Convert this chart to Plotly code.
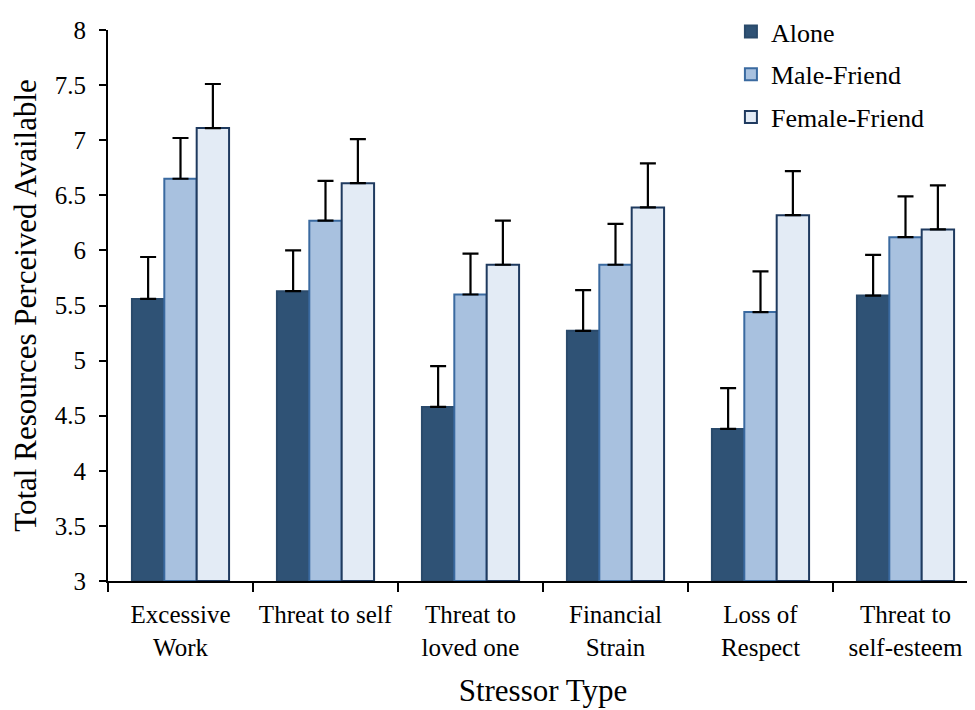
"""
Grouped bar chart: perceived resources by stressor type and company.
"""
import plotly.graph_objects as go

stressors = ["Excessive<br>Work", "Threat to self", "Threat to<br>loved one",
             "Financial<br>Strain", "Loss of<br>Respect", "Threat to<br>self-esteem"]

alone = [5.56, 5.63, 4.58, 5.27, 4.38, 5.59]
alone_err = [0.38, 0.37, 0.37, 0.37, 0.37, 0.37]

male_friend = [6.65, 6.27, 5.60, 5.87, 5.44, 6.12]
male_friend_err = [0.37, 0.36, 0.37, 0.37, 0.37, 0.37]

female_friend = [7.11, 6.61, 5.87, 6.39, 6.32, 6.19]
female_friend_err = [0.40, 0.40, 0.40, 0.40, 0.40, 0.40]

y_ticks = [3, 3.5, 4, 4.5, 5, 5.5, 6, 6.5, 7, 7.5, 8]

FONT = "Liberation Serif, Times New Roman, serif"

series = [
    ("Alone", alone, alone_err, "#2f5275", "#2a4a6b"),
    ("Male-Friend", male_friend, male_friend_err, "#a8c1df", "#3a6aa0"),
    ("Female-Friend", female_friend, female_friend_err, "#e3ebf5", "#1f3a5f"),
]

fig = go.Figure()
for name, vals, errs, fill, edge in series:
    fig.add_trace(go.Bar(
        name=name,
        x=stressors,
        y=[v - 3 for v in vals],
        base=3,
        legendgroup=name,
        marker=dict(color=fill, line=dict(color=edge, width=2)),
        error_y=dict(type="data", array=errs, arrayminus=[0] * len(errs),
                     symmetric=False, color="black", thickness=2.2, width=8),
    ))

fig.update_layout(
    width=970,
    height=702,
    barmode="group",
    bargap=0.33,
    bargroupgap=0,
    plot_bgcolor="white",
    paper_bgcolor="white",
    font=dict(family=FONT, size=26, color="black"),
    margin=dict(l=100, r=0, t=22, b=129),
    legend=dict(x=0.716, y=1.04, xanchor="left", yanchor="top",
                traceorder="grouped", tracegroupgap=6,
                font=dict(family=FONT, size=26), bgcolor="rgba(0,0,0,0)"),
    xaxis=dict(
        showline=True, linecolor="black", linewidth=2, automargin=False,
        ticks="outside", tickson="boundaries", ticklen=9, tickwidth=2,
        tickcolor="black", tickfont=dict(size=25), tickangle=0,
        ticklabelstandoff=10,
        title=dict(text="Stressor Type", font=dict(size=31), standoff=20),
    ),
    yaxis=dict(
        range=[3, 8], tickvals=y_ticks, ticktext=[f"{t:g}" for t in y_ticks],
        showline=True, linecolor="black", linewidth=2, automargin=False,
        ticks="outside", ticklen=7, tickwidth=2, tickcolor="black",
        showgrid=False, zeroline=False, tickfont=dict(size=25),
        ticklabelstandoff=8,
        title=dict(text="Total Resources Perceived Available", font=dict(size=31),
                   standoff=10),
    ),
)

fig.write_html("out.html")
